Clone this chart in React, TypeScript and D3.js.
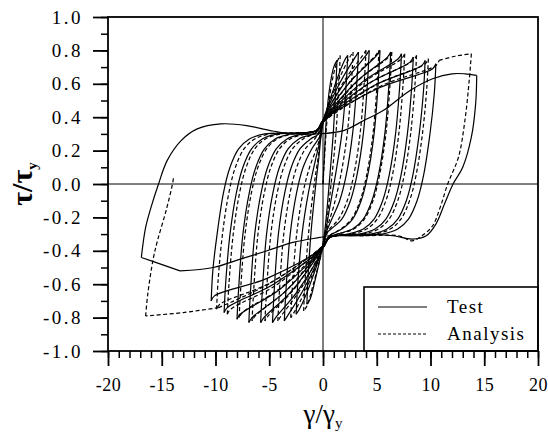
import React, { useEffect, useRef } from 'react';
import * as d3 from 'd3';

const WIDTH = 548;
const HEIGHT = 437;
const LEFT = 108;
const RIGHT = 538;
const TOP = 17;
const BOTTOM = 351;
const FONT = 'Liberation Serif, Times New Roman, serif';

const xTickLabels = [-20, -15, -10, -5, 0, 5, 10, 15, 20];
const yTickLabels = [-1.0, -0.8, -0.6, -0.4, -0.2, 0.0, 0.2, 0.4, 0.6, 0.8, 1.0];
const legendLabels = ['Test', 'Analysis'];

// test (solid) — one branch per array, [γ/γy, τ/τy]
const testLoops = [
  [[0, 0], [0.15, 0.2], [0.3, 0.38], [0.65, 0.59], [1.0, 0.7], [1.3, 0.74]],
  [[1.3, 0.74], [1.18, 0.56], [0.95, 0.3], [0.6, 0.02], [0.3, -0.2], [0, -0.36], [-0.75, -0.58], [-1.2, -0.69], [-1.5, -0.72]],
  [[-1.5, -0.72], [-1.38, -0.54], [-1.1, -0.28], [-0.75, -0.05], [-0.4, 0.15], [0, 0.36], [1.15, 0.6], [2.0, 0.74], [2.3, 0.77]],
  [[2.3, 0.77], [2.15, 0.59], [1.75, 0.3], [1.15, 0.05], [0.6, -0.15], [0, -0.36], [-1.25, -0.61], [-2.2, -0.75], [-2.5, -0.78]],
  [[-2.5, -0.78], [-2.35, -0.6], [-1.95, -0.3], [-1.35, -0.05], [-0.75, 0.13], [-0.25, 0.27], [0, 0.38], [1.65, 0.615], [3.0, 0.76], [3.3, 0.79]],
  [[3.3, 0.79], [3.15, 0.61], [2.75, 0.3], [2.15, 0.05], [1.55, -0.1], [0.75, -0.22], [0.25, -0.3], [0, -0.38], [-1.8, -0.63], [-3.3, -0.79], [-3.6, -0.82]],
  [[-3.6, -0.82], [-3.45, -0.64], [-3.05, -0.3], [-2.45, -0.05], [-1.85, 0.1], [-1.05, 0.21], [-0.25, 0.29], [0, 0.38], [2.15, 0.62], [4.0, 0.77], [4.3, 0.8]],
  [[4.3, 0.8], [4.15, 0.62], [3.75, 0.3], [3.15, 0.05], [2.55, -0.1], [1.75, -0.21], [0.75, -0.27], [0.25, -0.3], [0, -0.38], [-2.35, -0.64], [-4.4, -0.8], [-4.7, -0.83]],
  [[-4.7, -0.83], [-4.55, -0.65], [-4.15, -0.3], [-3.55, -0.05], [-2.95, 0.1], [-2.15, 0.21], [-1.15, 0.27], [-0.4, 0.3], [0, 0.38], [2.65, 0.62], [5.0, 0.77], [5.3, 0.8]],
  [[5.3, 0.8], [5.15, 0.62], [4.75, 0.3], [4.15, 0.05], [3.55, -0.1], [2.75, -0.21], [1.75, -0.27], [0.6, -0.31], [0, -0.38], [-2.9, -0.64], [-5.5, -0.8], [-5.8, -0.83]],
  [[-5.8, -0.83], [-5.65, -0.65], [-5.25, -0.3], [-4.65, -0.05], [-4.05, 0.1], [-3.25, 0.21], [-2.25, 0.27], [-0.6, 0.31], [0, 0.38], [3.15, 0.615], [6.0, 0.76], [6.3, 0.79]],
  [[6.3, 0.79], [6.15, 0.61], [5.75, 0.3], [5.15, 0.05], [4.55, -0.1], [3.75, -0.21], [2.75, -0.27], [1.3, -0.3], [0.6, -0.32], [0, -0.38], [-3.45, -0.64], [-6.6, -0.8], [-6.9, -0.83]],
  [[-6.9, -0.83], [-6.75, -0.65], [-6.35, -0.3], [-5.75, -0.05], [-5.15, 0.1], [-4.35, 0.21], [-3.35, 0.27], [-1.9, 0.3], [-0.6, 0.32], [0, 0.38], [3.65, 0.61], [7.0, 0.75], [7.3, 0.78]],
  [[7.3, 0.78], [7.15, 0.6], [6.75, 0.3], [6.15, 0.05], [5.55, -0.1], [4.75, -0.21], [3.75, -0.27], [2.3, -0.3], [0.6, -0.32], [0, -0.38], [-4.0, -0.63], [-7.7, -0.78], [-8.0, -0.81]],
  [[-8.0, -0.81], [-7.85, -0.63], [-7.45, -0.3], [-6.85, -0.05], [-6.25, 0.1], [-5.45, 0.21], [-4.45, 0.27], [-3.0, 0.3], [-0.6, 0.32], [0, 0.38], [4.2, 0.6], [8.1, 0.73], [8.4, 0.76]],
  [[8.4, 0.76], [8.25, 0.58], [7.85, 0.3], [7.25, 0.05], [6.65, -0.1], [5.85, -0.21], [4.85, -0.27], [3.4, -0.3], [0.6, -0.32], [0, -0.38], [-4.6, -0.6], [-8.9, -0.74], [-9.2, -0.77]],
  [[-9.2, -0.77], [-9.05, -0.59], [-8.65, -0.3], [-8.05, -0.05], [-7.45, 0.1], [-6.65, 0.21], [-5.65, 0.27], [-4.2, 0.3], [-0.6, 0.32], [0, 0.38], [4.75, 0.59], [9.2, 0.71], [9.5, 0.74]],
  [[9.5, 0.74], [9.35, 0.56], [8.95, 0.3], [8.35, 0.05], [7.75, -0.1], [6.95, -0.21], [5.95, -0.27], [4.5, -0.3], [0.6, -0.32], [0, -0.38], [-5.2, -0.565], [-10.1, -0.67], [-10.4, -0.7]],
  [[-10.4, -0.7], [-10.25, -0.52], [-9.85, -0.3], [-9.25, -0.05], [-8.65, 0.1], [-7.85, 0.21], [-6.85, 0.27], [-5.4, 0.3], [-0.6, 0.32], [0, 0.38], [5.25, 0.576], [10.2, 0.69], [10.5, 0.72]],
  [[10.5, 0.72], [10.35, 0.54], [9.95, 0.3], [9.35, 0.05], [8.75, -0.1], [7.95, -0.21], [6.95, -0.27], [5.5, -0.3], [3.0, -0.31], [0.6, -0.31], [-0.3, -0.32], [-2.8, -0.35], [-5.2, -0.4], [-7.7, -0.45], [-10.2, -0.5], [-13.3, -0.52]],
  [[-13.3, -0.52], [-15.1, -0.48], [-16.9, -0.44]],
  [[-16.9, -0.44], [-16.5, -0.26], [-16.0, -0.14], [-15.3, 0.0], [-14.5, 0.14], [-13.2, 0.26], [-11.7, 0.33], [-9.5, 0.36], [-7.1, 0.35], [-4.9, 0.32], [-2.8, 0.3], [-0.5, 0.3], [1.9, 0.32], [3.8, 0.38], [5.6, 0.44], [8.1, 0.56], [10.2, 0.63], [12.0, 0.66], [13.2, 0.66], [14.3, 0.65]],
  [[14.3, 0.65], [14.2, 0.48], [13.8, 0.28], [13.0, 0.1], [12.1, 0.0], [11.3, -0.12], [10.5, -0.24], [9.6, -0.31], [8.3, -0.33], [6.5, -0.31], [4.0, -0.3], [1.0, -0.31]],
];

// analysis (dashed)
const analysisLoops = [
  [[0, 0], [0.2, 0.22], [0.4, 0.4], [0.8, 0.6], [1.3, 0.73], [1.6, 0.77]],
  [[1.6, 0.77], [1.47, 0.59], [1.2, 0.3], [0.8, 0.03], [0.4, -0.2], [0, -0.37], [-0.9, -0.6], [-1.5, -0.73], [-1.8, -0.76]],
  [[-1.8, -0.76], [-1.67, -0.58], [-1.35, -0.3], [-0.9, -0.04], [-0.45, 0.16], [0, 0.37], [1.4, 0.615], [2.5, 0.76], [2.8, 0.79]],
  [[2.8, 0.79], [2.65, 0.61], [2.25, 0.3], [1.65, 0.05], [1.05, -0.12], [0.4, -0.26], [0, -0.37], [-1.5, -0.62], [-2.7, -0.77], [-3.0, -0.8]],
  [[-3.0, -0.8], [-2.85, -0.62], [-2.45, -0.3], [-1.85, -0.05], [-1.25, 0.1], [-0.45, 0.24], [0, 0.37], [2.0, 0.62], [3.7, 0.77], [4.0, 0.8]],
  [[4.0, 0.8], [3.85, 0.62], [3.45, 0.3], [2.85, 0.05], [2.25, -0.1], [1.45, -0.21], [0.5, -0.28], [0, -0.37], [-2.1, -0.631], [-3.9, -0.79], [-4.2, -0.82]],
  [[-4.2, -0.82], [-4.05, -0.64], [-3.65, -0.3], [-3.05, -0.05], [-2.45, 0.1], [-1.65, 0.21], [-0.65, 0.28], [0, 0.37], [2.6, 0.62], [4.9, 0.77], [5.2, 0.8]],
  [[5.2, 0.8], [5.05, 0.62], [4.65, 0.3], [4.05, 0.05], [3.45, -0.1], [2.65, -0.21], [1.65, -0.27], [0.6, -0.31], [0, -0.37], [-2.7, -0.631], [-5.1, -0.79], [-5.4, -0.82]],
  [[-5.4, -0.82], [-5.25, -0.64], [-4.85, -0.3], [-4.25, -0.05], [-3.65, 0.1], [-2.85, 0.21], [-1.85, 0.27], [-0.6, 0.31], [0, 0.37], [3.2, 0.615], [6.1, 0.76], [6.4, 0.79]],
  [[6.4, 0.79], [6.25, 0.61], [5.85, 0.3], [5.25, 0.05], [4.65, -0.1], [3.85, -0.21], [2.85, -0.27], [1.4, -0.3], [0.6, -0.32], [0, -0.37], [-3.3, -0.631], [-6.3, -0.79], [-6.6, -0.82]],
  [[-6.6, -0.82], [-6.45, -0.64], [-6.05, -0.3], [-5.45, -0.05], [-4.85, 0.1], [-4.05, 0.21], [-3.05, 0.27], [-1.6, 0.3], [-0.6, 0.32], [0, 0.37], [3.8, 0.609], [7.3, 0.75], [7.6, 0.78]],
  [[7.6, 0.78], [7.45, 0.6], [7.05, 0.3], [6.45, 0.05], [5.85, -0.1], [5.05, -0.21], [4.05, -0.27], [2.6, -0.3], [0.6, -0.32], [0, -0.37], [-3.9, -0.62], [-7.5, -0.77], [-7.8, -0.8]],
  [[-7.8, -0.8], [-7.65, -0.62], [-7.25, -0.3], [-6.65, -0.05], [-6.05, 0.1], [-5.25, 0.21], [-4.25, 0.27], [-2.8, 0.3], [-0.6, 0.32], [0, 0.37], [4.35, 0.604], [8.4, 0.74], [8.7, 0.77]],
  [[8.7, 0.77], [8.55, 0.59], [8.15, 0.3], [7.55, 0.05], [6.95, -0.1], [6.15, -0.21], [5.15, -0.27], [3.7, -0.3], [0.6, -0.32], [0, -0.37], [-4.45, -0.609], [-8.6, -0.75], [-8.9, -0.78]],
  [[-8.9, -0.78], [-8.75, -0.6], [-8.35, -0.3], [-7.75, -0.05], [-7.15, 0.1], [-6.35, 0.21], [-5.35, 0.27], [-3.9, 0.3], [-0.6, 0.32], [0, 0.37], [4.9, 0.593], [9.5, 0.72], [9.8, 0.75]],
  [[9.8, 0.75], [9.65, 0.57], [9.25, 0.3], [8.65, 0.05], [8.05, -0.1], [7.25, -0.21], [6.25, -0.27], [4.8, -0.3], [0.6, -0.32], [0, -0.37], [-4.95, -0.593], [-9.6, -0.72], [-9.9, -0.75]],
  [[-9.9, -0.75], [-9.75, -0.57], [-9.35, -0.3], [-8.75, -0.05], [-8.15, 0.1], [-7.35, 0.21], [-6.35, 0.27], [-4.9, 0.3], [-0.6, 0.32], [0, 0.37], [5.4, 0.587], [10.5, 0.71], [10.8, 0.74]],
  [[10.8, 0.74], [12.3, 0.765], [13.8, 0.78]],
  [[13.8, 0.78], [13.6, 0.62], [13.2, 0.38], [12.6, 0.16], [11.6, 0.0], [10.9, -0.14], [10.2, -0.25], [9.2, -0.31], [8.3, -0.34], [7.0, -0.31], [4.0, -0.31], [0.6, -0.32], [0, -0.37], [-4.9, -0.593], [-9.7, -0.74]],
  [[-9.7, -0.74], [-13.0, -0.77], [-16.5, -0.79]],
  [[-16.5, -0.79], [-16.3, -0.66], [-15.8, -0.45], [-15.4, -0.34], [-14.6, -0.16], [-14.0, 0.0], [-13.9, 0.04]],
];

export default function App() {
  const ref = useRef<SVGSVGElement>(null);

  useEffect(() => {
    const svg = d3.select(ref.current);
    svg.selectAll('*').remove();

    const x = d3.scaleLinear().domain([-20, 20]).range([LEFT, RIGHT]);
    const y = d3.scaleLinear().domain([-1, 1]).range([BOTTOM, TOP]);

    const line = d3.line<number[]>()
      .x(d => x(d[0]))
      .y(d => y(d[1]))
      .curve(d3.curveCatmullRom.alpha(0.5));

    // zero lines
    svg.append('line')
      .attr('x1', x(0)).attr('x2', x(0)).attr('y1', TOP).attr('y2', BOTTOM)
      .attr('stroke', '#000').attr('stroke-width', 1);
    svg.append('line')
      .attr('x1', LEFT).attr('x2', RIGHT).attr('y1', y(0)).attr('y2', y(0))
      .attr('stroke', '#000').attr('stroke-width', 1);

    // data
    svg.append('g').selectAll('path')
      .data(testLoops)
      .enter().append('path')
      .attr('d', d => line(d))
      .attr('fill', 'none')
      .attr('stroke', '#000')
      .attr('stroke-width', 1.2);

    svg.append('g').selectAll('path')
      .data(analysisLoops)
      .enter().append('path')
      .attr('d', d => line(d))
      .attr('fill', 'none')
      .attr('stroke', '#000')
      .attr('stroke-width', 1.2)
      .attr('stroke-dasharray', '4,2.5');

    // legend
    const legend = svg.append('g');
    legend.append('rect')
      .attr('x', 364).attr('y', 287).attr('width', RIGHT - 364).attr('height', BOTTOM - 287)
      .attr('fill', '#fff').attr('stroke', '#000').attr('stroke-width', 1.6);
    legendLabels.forEach((label, i) => {
      const ly = 307 + i * 27;
      legend.append('line')
        .attr('x1', 378).attr('x2', 427).attr('y1', ly).attr('y2', ly)
        .attr('stroke', '#000').attr('stroke-width', 1.2)
        .attr('stroke-dasharray', i === 0 ? null : '3,2');
      legend.append('text')
        .attr('x', 447).attr('y', ly + 6)
        .attr('font-family', FONT).attr('font-size', 19)
        .attr('letter-spacing', 1.5)
        .text(label);
    });

    // frame
    svg.append('rect')
      .attr('x', LEFT).attr('y', TOP).attr('width', RIGHT - LEFT).attr('height', BOTTOM - TOP)
      .attr('fill', 'none').attr('stroke', '#000').attr('stroke-width', 1.8);

    // axes
    const xMinor = d3.axisBottom(x).tickValues(d3.range(-20, 21, 1)).tickSize(7).tickFormat(() => '');
    const xMajor = d3.axisBottom(x).tickValues(xTickLabels).tickSize(15).tickPadding(12)
      .tickFormat(d => String(d));
    const yMinor = d3.axisLeft(y).tickValues(d3.range(-10, 11, 1).map(v => v / 10)).tickSize(7).tickFormat(() => '');
    const yMajor = d3.axisLeft(y).tickValues(yTickLabels).tickSize(15).tickPadding(10)
      .tickFormat(d => (+d).toFixed(1));

    const styleAxis = (g: any, w: number, spacing: number, size: number) => {
      g.select('.domain').remove();
      g.selectAll('line').attr('stroke', '#000').attr('stroke-width', w);
      g.selectAll('text').attr('font-family', FONT).attr('font-size', size)
        .attr('fill', '#000').attr('letter-spacing', spacing);
    };

    svg.append('g').attr('transform', `translate(0,${BOTTOM})`).call(xMinor).call(g => styleAxis(g, 1.5, 0, 18));
    svg.append('g').attr('transform', `translate(0,${BOTTOM})`).call(xMajor).call(g => styleAxis(g, 1.8, 0.5, 18));
    svg.append('g').attr('transform', `translate(${LEFT},0)`).call(yMinor).call(g => styleAxis(g, 1.5, 0, 19));
    svg.append('g').attr('transform', `translate(${LEFT},0)`).call(yMajor).call(g => styleAxis(g, 1.8, 2.5, 19));

    // axis titles
    const yTitle = svg.append('text')
      .attr('transform', `translate(32,${(TOP + BOTTOM) / 2}) rotate(-90)`)
      .attr('text-anchor', 'middle')
      .attr('font-family', FONT).attr('font-size', 30).attr('font-weight', 'bold');
    yTitle.append('tspan').text('τ/τ');
    yTitle.append('tspan').attr('font-size', 15).attr('dy', 5).text('y');

    const xTitle = svg.append('text')
      .attr('x', x(0)).attr('y', 423)
      .attr('text-anchor', 'middle')
      .attr('font-family', FONT).attr('font-size', 27);
    xTitle.append('tspan').text('γ/γ');
    xTitle.append('tspan').attr('font-size', 15).attr('dy', 5).text('y');
  }, []);

  return (
    <svg
      ref={ref}
      width={WIDTH}
      height={HEIGHT}
      style={{ position: 'absolute', left: 0, top: 0, background: '#fff' }}
      xmlns="http://www.w3.org/2000/svg"
    />
  );
}
